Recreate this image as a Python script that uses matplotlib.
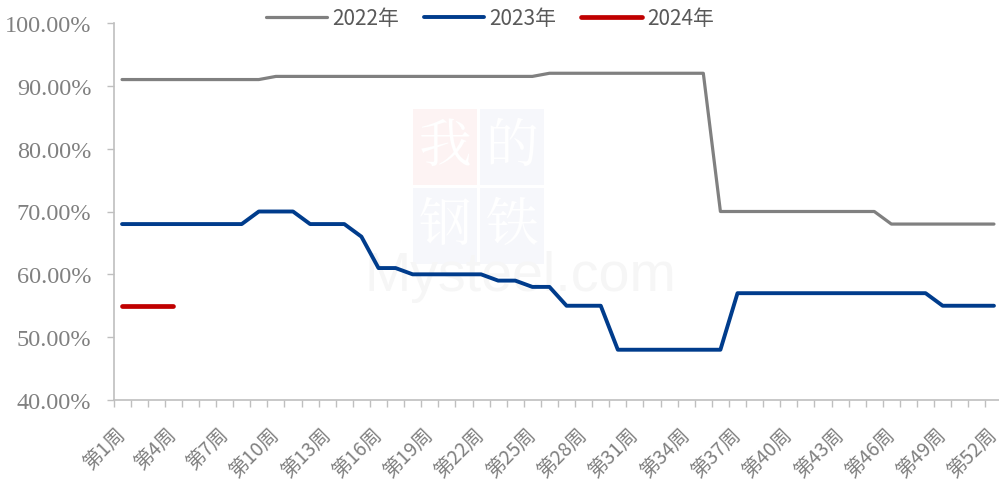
import matplotlib
matplotlib.use("Agg")
import matplotlib.pyplot as plt
from matplotlib.ticker import FixedLocator, FuncFormatter
from matplotlib.patches import Rectangle

weeks = list(range(1, 53))
tick_weeks = list(range(1, 53, 3))
tick_labels = [f"第{w}周" for w in tick_weeks]

v2022 = [91]*9 + [91.5]*16 + [92]*10 + [70]*10 + [68]*7
v2023 = ([68]*8 + [70]*3 + [68]*3 + [66] + [61]*2 + [60]*5 + [59]*2 +
         [58]*2 + [55]*3 + [48]*7 + [57]*12 + [55]*4)
w2024 = [1, 2, 3, 4]
v2024 = [55, 55, 55, 55]

series_names = ["2022年", "2023年", "2024年"]
colors = ["#808080", "#003C8C", "#C00000"]

fig = plt.figure(figsize=(9.99, 4.81), dpi=100)
ax = fig.add_axes([113.5/999, 1-401/481, (1002.5-113.5)/999, (401-24)/481])
ax.set_zorder(2)
ax.set_facecolor("none")

# very faint watermark
wm_boxes = [(413, 110, "我", "#FDF3F3"), (480, 110, "的", "#F6F7FB"),
            (413, 189, "钢", "#F6F7FB"), (480, 189, "铁", "#F6F7FB")]
for (bx, by, ch, fc) in wm_boxes:
    fig.patches.append(Rectangle((bx/999, 1-(by+76)/481), 64/999, 76/481,
                                 transform=fig.transFigure, facecolor=fc,
                                 edgecolor="none", zorder=0))
    fig.text((bx+32)/999, 1-(by+38)/481, ch, color="#FFFFFF", fontsize=38,
             ha="center", va="center", family=["Noto Serif CJK SC", "Noto Sans CJK SC"],
             zorder=0.5)
fig.text(520/999, 1-277/481, "Mysteel.com", color="#F6F6F6", fontsize=40,
         ha="center", va="center", family=["Liberation Sans"], zorder=0.5)

ax.plot(weeks, v2022, color=colors[0], lw=2.3, label=series_names[0],
        solid_capstyle="round", solid_joinstyle="round")
ax.plot(weeks, v2023, color=colors[1], lw=2.8, label=series_names[1],
        solid_capstyle="round", solid_joinstyle="round")
ax.plot(w2024, v2024, color=colors[2], lw=3.4, label=series_names[2],
        solid_capstyle="round", solid_joinstyle="round")

ax.set_xlim(0.5, 52.5)
ax.set_ylim(40, 100)
ax.set_yticks(range(40, 101, 10))
ax.yaxis.set_major_formatter(FuncFormatter(lambda v, p: f"{v:.2f}%"))
ax.xaxis.set_major_locator(FixedLocator(tick_weeks))
ax.set_xticklabels(tick_labels, rotation=45, ha="right", va="center",
                   rotation_mode="anchor", family=["Noto Sans CJK SC"],
                   fontsize=14, color="#808080")
ax.xaxis.set_minor_locator(FixedLocator([w + 0.5 for w in range(0, 53)]))
ax.tick_params(axis="x", which="major", length=0, pad=22)
ax.tick_params(axis="x", which="minor", length=5, width=1, color="#BFBFBF")
ax.tick_params(axis="y", which="major", length=5, width=1, color="#BFBFBF",
               labelsize=17.5, labelcolor="#808080", pad=11)
for lab in ax.get_yticklabels():
    lab.set_family(["Liberation Serif"])

for s in ["top", "right"]:
    ax.spines[s].set_visible(False)
for s in ["left", "bottom"]:
    ax.spines[s].set_color("#BFBFBF")
    ax.spines[s].set_linewidth(1.2)

leg = fig.legend(loc="center", bbox_to_anchor=(490/999, 1-19/481), ncol=3,
                 frameon=False, handlelength=2.9, handletextpad=0.25,
                 columnspacing=1.2, prop={"family": ["Noto Sans CJK SC"], "size": 15})
for t in leg.get_texts():
    t.set_color("#595959")

fig.savefig("out.png", dpi=100)
